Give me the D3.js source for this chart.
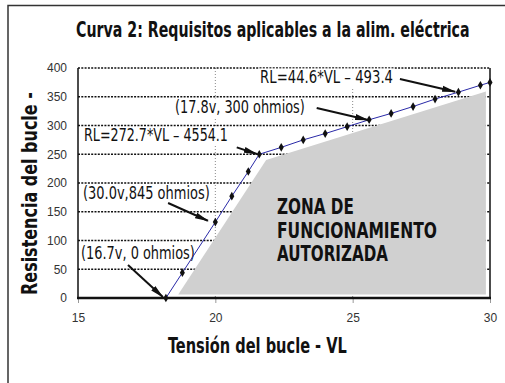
<!DOCTYPE html>
<html>
<head>
<meta charset="utf-8">
<script src="https://cdn.jsdelivr.net/npm/d3@7"></script>
<style>
  html, body { margin: 0; padding: 0; background: #fff; }
  svg { display: block; }
  .cond { font-family: 'Liberation Sans Narrow', 'DejaVu Sans Condensed', 'Roboto', Arial, sans-serif; }
</style>
</head>
<body>
<svg id="chart" width="505" height="383"></svg>
<script>
// Loop voltage (V) and loop resistance (ohms) along the supply requirement curve
const voltage    = [18.2, 18.8, 20.0, 20.6, 21.2, 21.6, 22.4, 23.2, 24.0, 24.8, 25.6, 26.4, 27.2, 28.0, 28.85, 29.65, 30.0];
const resistance = [0,    44,   132,  177,  220,  250,  262,  275,  286,  298,  310,  321,  333,  346,  358,   370,   375];

// Authorised operating zone (shaded polygon)
const zoneVoltage    = [18.65, 21.85, 29.85, 29.85];
const zoneResistance = [6,     240,   359,   6];

// Axis ticks
const xTicks = [15, 20, 25, 30];
const yTicks = [0, 50, 100, 150, 200, 250, 300, 350, 400];

// Text
const title = "Curva 2: Requisitos aplicables a la alim. eléctrica";
const xTitle = "Tensión del bucle - VL";
const yTitle = "Resistencia del bucle -";
const zoneLines = ["ZONA DE", "FUNCIONAMIENTO", "AUTORIZADA"];

// Callouts: text start / baseline and arrow, in data units
const callouts = [
  { text: "RL=44.6*VL – 493.4",   tx: 21.63, ty: 373.9, len: 133, ax: 26.72, ay: 380.9, bx: 28.73, by: 358.8 },
  { text: "(17.8v, 300 ohmios)",  tx: 18.53, ty: 321.7, len: 130, ax: 23.69, ay: 330.4, bx: 25.56, by: 309.6 },
  { text: "RL=272.7*VL – 4554.1", tx: 15.22, ty: 272.2, len: 144, ax: 20.78, ay: 262.0, bx: 21.51, by: 250.4 },
  { text: "(30.0v,845 ohmios)",   tx: 15.18, ty: 172.2, len: 127, ax: 18.28, ay: 165.2, bx: 19.73, by: 134.4 },
  { text: "(16.7v, 0 ohmios)",    tx: 15.11, ty: 67.0,  len: 114, ax: 16.82, ay: 57.4,  bx: 18.09, by: 1.7 }
];

const svg = d3.select("#chart");
const plot = { left: 78, right: 490, top: 68, bottom: 298 };

const x = d3.scaleLinear().domain([15, 30]).range([plot.left, plot.right]);
const y = d3.scaleLinear().domain([0, 400]).range([plot.bottom, plot.top]);

// Draws a condensed text squeezed horizontally to the given width
function condText(parent, str, px, py, size, weight, width, rotate) {
  const g = parent.append("g");
  const t = g.append("text")
    .attr("class", "cond")
    .attr("font-size", size).attr("font-weight", weight).attr("fill", "#111")
    .text(str);
  const natural = t.node().getComputedTextLength();
  const s = width / natural;
  g.attr("transform", `translate(${px},${py})` + (rotate ? ` rotate(${rotate})` : "") + ` scale(${s},1)`);
  return t;
}

// Outer frame (left and top edges)
svg.append("path")
  .attr("d", "M8,383 L8,5.5 L505,5.5")
  .attr("fill", "none").attr("stroke", "#333").attr("stroke-width", 1.5);

// Arrowhead
svg.append("defs").append("marker")
  .attr("id", "head")
  .attr("markerUnits", "userSpaceOnUse")
  .attr("viewBox", "0 0 14 7")
  .attr("markerWidth", 14).attr("markerHeight", 7)
  .attr("refX", 13).attr("refY", 3.5)
  .attr("orient", "auto")
  .append("path").attr("d", "M0,0.5 L14,3.5 L0,6.5 Z").attr("fill", "#111");

// Vertical grid (light dotted)
svg.append("g").selectAll("line")
  .data(xTicks.filter(d => d > 15 && d < 30))
  .join("line")
  .attr("x1", d => x(d)).attr("x2", d => x(d))
  .attr("y1", plot.top).attr("y2", plot.bottom)
  .attr("stroke", "#8a8a8a").attr("stroke-width", 1).attr("stroke-dasharray", "1,2");

// Horizontal grid (dark dashed)
svg.append("g").selectAll("line")
  .data(yTicks.filter(d => d > 0))
  .join("line")
  .attr("x1", plot.left).attr("x2", plot.right)
  .attr("y1", d => y(d)).attr("y2", d => y(d))
  .attr("stroke", "#111").attr("stroke-width", 1.5).attr("stroke-dasharray", "2,1.3");

// Authorised zone
svg.append("path")
  .datum(zoneVoltage.map((v, i) => [v, zoneResistance[i]]))
  .attr("d", d3.line().x(d => x(d[0])).y(d => y(d[1])).curve(d3.curveLinearClosed))
  .attr("fill", "#d0d0d0");

// Axes
const xAxis = svg.append("g")
  .attr("transform", `translate(0,${plot.bottom})`)
  .call(d3.axisBottom(x).tickValues(xTicks).tickSize(5).tickPadding(10));
xAxis.select(".domain").remove();
xAxis.selectAll(".tick line").attr("stroke", "#999");
xAxis.selectAll(".tick text")
  .attr("font-family", "Arial, 'Liberation Sans', sans-serif").attr("font-size", 12).attr("fill", "#333");

const yAxis = svg.append("g")
  .attr("transform", `translate(${plot.left},0)`)
  .call(d3.axisLeft(y).tickValues(yTicks).tickSize(0).tickPadding(11));
yAxis.select(".domain").remove();
yAxis.selectAll(".tick text")
  .attr("font-family", "Arial, 'Liberation Sans', sans-serif").attr("font-size", 12).attr("fill", "#333");

// Plot frame: left and right solid, bottom heavy
svg.append("line")
  .attr("x1", plot.left).attr("x2", plot.left).attr("y1", plot.top).attr("y2", plot.bottom)
  .attr("stroke", "#111").attr("stroke-width", 1.5);
svg.append("line")
  .attr("x1", plot.right).attr("x2", plot.right).attr("y1", plot.top).attr("y2", plot.bottom)
  .attr("stroke", "#111").attr("stroke-width", 1.5);
svg.append("line")
  .attr("x1", plot.left - 1).attr("x2", plot.right + 1).attr("y1", plot.bottom).attr("y2", plot.bottom)
  .attr("stroke", "#111").attr("stroke-width", 2.5);

// Callout labels on white boxes
const labels = svg.append("g");
callouts.forEach(c => {
  labels.append("rect")
    .attr("x", x(c.tx) - 1).attr("y", y(c.ty) - 14.5)
    .attr("width", c.len + 2).attr("height", 18.5)
    .attr("fill", "#fff");
  condText(labels, c.text, x(c.tx), y(c.ty), 18, "normal", c.len);
});

// Requirement curve
const pts = voltage.map((v, i) => [v, resistance[i]]);
svg.append("path")
  .datum(pts)
  .attr("d", d3.line().x(d => x(d[0])).y(d => y(d[1])))
  .attr("fill", "none").attr("stroke", "#2a2aa8").attr("stroke-width", 1);

svg.append("g").selectAll("path")
  .data(pts)
  .join("path")
  .attr("transform", d => `translate(${x(d[0])},${y(d[1])})`)
  .attr("d", d3.symbol(d3.symbolDiamond, 22))
  .attr("fill", "#111");

// Callout arrows
svg.append("g").selectAll("line")
  .data(callouts)
  .join("line")
  .attr("x1", d => x(d.ax)).attr("y1", d => y(d.ay))
  .attr("x2", d => x(d.bx)).attr("y2", d => y(d.by))
  .attr("stroke", "#111").attr("stroke-width", 2)
  .attr("marker-end", "url(#head)");

// Zone caption
const zoneWidths = [77, 160, 111];
zoneLines.forEach((line, i) => {
  condText(svg, line, 277, 214 + i * 23.7, 22, "bold", zoneWidths[i]);
});

// Titles
condText(svg, title, 76, 37, 22, "bold", 394);
condText(svg, xTitle, 168, 353, 21, "bold", 179);
condText(svg, yTitle, 37, 295, 21, "bold", 203, -90);
</script>
</body>
</html>
